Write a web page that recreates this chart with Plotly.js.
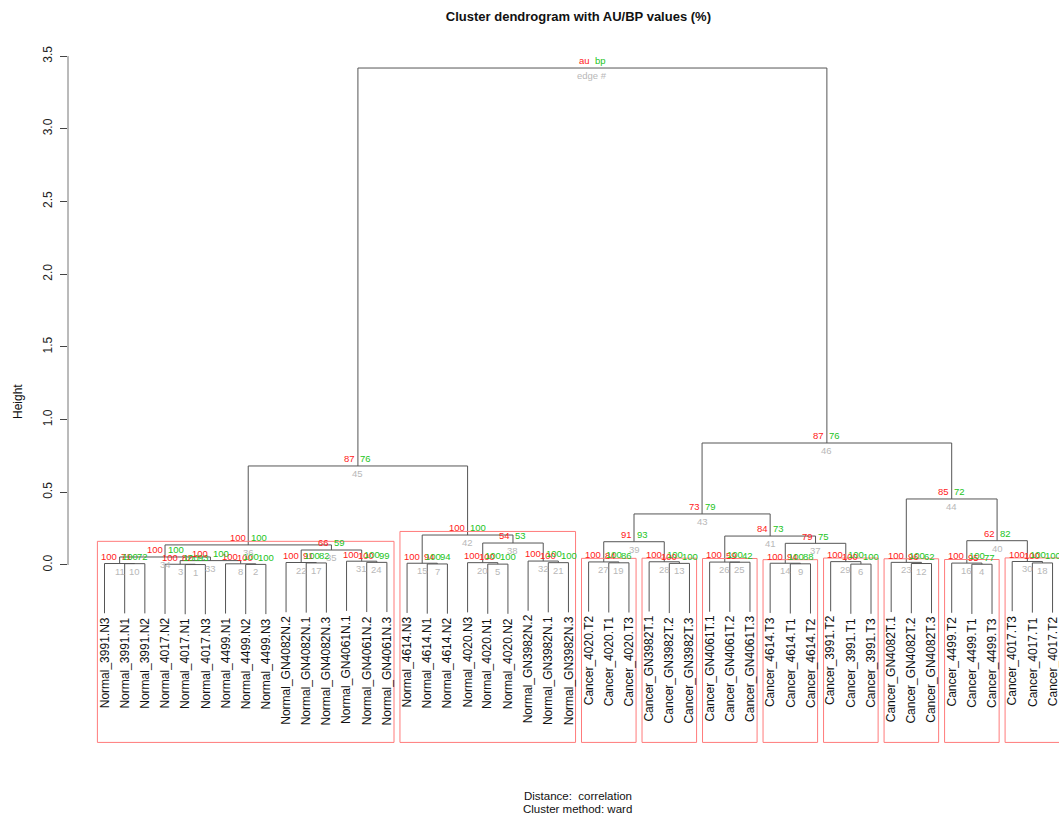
<!DOCTYPE html>
<html><head><meta charset="utf-8">
<script src="https://cdn.plot.ly/plotly-3.0.1.min.js"></script>
<style>html,body{margin:0;padding:0;background:#fff}#chart{width:1059px;height:821px}</style>
</head><body><div id="chart"></div>
<script>
// Leaf labels in display order (position 1..48)
const leafLabels = [
  "Normal_3991.N3","Normal_3991.N1","Normal_3991.N2",
  "Normal_4017.N2","Normal_4017.N1","Normal_4017.N3",
  "Normal_4499.N1","Normal_4499.N2","Normal_4499.N3",
  "Normal_GN4082N.2","Normal_GN4082N.1","Normal_GN4082N.3",
  "Normal_GN4061N.1","Normal_GN4061N.2","Normal_GN4061N.3",
  "Normal_4614.N3","Normal_4614.N1","Normal_4614.N2",
  "Normal_4020.N3","Normal_4020.N1","Normal_4020.N2",
  "Normal_GN3982N.2","Normal_GN3982N.1","Normal_GN3982N.3",
  "Cancer_4020.T2","Cancer_4020.T1","Cancer_4020.T3",
  "Cancer_GN3982T.1","Cancer_GN3982T.2","Cancer_GN3982T.3",
  "Cancer_GN4061T.1","Cancer_GN4061T.2","Cancer_GN4061T.3",
  "Cancer_4614.T3","Cancer_4614.T1","Cancer_4614.T2",
  "Cancer_3991.T2","Cancer_3991.T1","Cancer_3991.T3",
  "Cancer_GN4082T.1","Cancer_GN4082T.2","Cancer_GN4082T.3",
  "Cancer_4499.T2","Cancer_4499.T1","Cancer_4499.T3",
  "Cancer_4017.T3","Cancer_4017.T1","Cancer_4017.T2"
];

// Merge table (edge k = row k). Negative = leaf position, positive = edge number.
const mergeLeft  = [-5,-8,-4,-44,-20,-38,-17,-7,-35,-2,-1,-41,-29,-34,-16,-43,-11,-47,-26,-19,-23,-10,-40,-14,-32,-31,-25,-28,-37,-46,-13,-22, 3,11,22,34,14,20,27,16,26,15,39,23,36,43,45];
const mergeRight = [-6,-9, 1,-45,-21,-39,-18, 2,-36,-3,10,-42,-30,  9,  7,  4,-12,-48,-27,  5,-24, 17, 12,-15,-33, 25, 19, 13,  6, 18, 24, 21, 8,33,31,35,29,32,28,30,37,38,41,40,42,44,46];
const mergeHeight = [0.003,0.004,0.005,0.005,0.006,0.006,0.007,0.008,0.008,0.009,0.010,0.010,0.011,0.012,0.012,0.013,
  0.014,0.014,0.015,0.016,0.016,0.017,0.018,0.018,0.019,0.020,0.021,0.022,0.023,0.024,0.026,0.027,
  0.030,0.055,0.103,0.138,0.149,0.151,0.160,0.167,0.199,0.206,0.351,0.454,0.681,0.839,3.418];

const auValues = ["82","100","100","95","100","100","94","100","94","71","100","96","100","100","100","100",
  "91","100","84","100","100","100","100","100","59","100","100","100","100","100","100","100",
  "100","100","66","100","79","54","91","62","84","100","73","85","87","87","au"];
const bpValues = ["93","100","100","77","100","100","94","100","88","72","100","62","100","100","100","100",
  "82","100","86","100","100","100","100","99","42","100","100","100","100","100","100","100",
  "100","100","59","100","75","53","93","82","73","100","79","72","76","76","bp"];
const edgeLabels = ["1","2","3","4","5","6","7","8","9","10","11","12","13","14","15","16","17","18","19","20",
  "21","22","23","24","25","26","27","28","29","30","31","32","33","34","35","36","37","38","39","40",
  "41","42","43","44","45","46","edge #"];

// Clusters boxed by pvrect (au >= 95%)
const rectEdges = [36,42,27,28,26,14,29,23,16,30];

const yTickVals = [0,0.5,1,1.5,2,2.5,3,3.5];
const yTickText = ["0.0","0.5","1.0","1.5","2.0","2.5","3.0","3.5"];

const titleText = "Cluster dendrogram with AU/BP values (%)";
const yTitle = "Height";
const subLine1 = "Distance:\u00a0 correlation";
const subLine2 = "Cluster method: ward";

// ---------- layout geometry ----------
const X_RANGE = [-0.81, 48.32];
const Y_RANGE = [-1.245, 3.6795];
const maxH = Math.max(...mergeHeight);
const hang = 0.1 * maxH;
const floatUp = 0.01 * (Y_RANGE[1] - Y_RANGE[0]);
const rectMx = 0.3525;
const rectMy = (Y_RANGE[1] - Y_RANGE[0]) / 200;
const FONT = 'Liberation Sans, Arial, sans-serif';

const nodeX = {}, nodeH = {};
const leafEnd = {};
const lx = [], ly = [];
for (let k = 1; k <= mergeHeight.length; k++) {
  const L = mergeLeft[k-1], R = mergeRight[k-1], h = mergeHeight[k-1];
  const xl = L < 0 ? -L : nodeX[L];
  const xr = R < 0 ? -R : nodeX[R];
  const yl = L < 0 ? h - hang : nodeH[L];
  const yr = R < 0 ? h - hang : nodeH[R];
  if (L < 0) leafEnd[-L] = yl;
  if (R < 0) leafEnd[-R] = yr;
  nodeX[k] = (xl + xr) / 2; nodeH[k] = h;
  lx.push(xl, xl, xr, xr, null);
  ly.push(yl, h, h, yr, null);
}

function leavesOf(k) {
  const out = [];
  [mergeLeft[k-1], mergeRight[k-1]].forEach(c => {
    if (c < 0) out.push(-c); else out.push(...leavesOf(c));
  });
  return out;
}

const annotations = [];
leafLabels.forEach((lab, i) => {
  annotations.push({x: i+1, y: leafEnd[i+1], xref:'x', yref:'y', text: lab, textangle: -90,
    showarrow:false, xanchor:'center', yanchor:'top', yshift:-2,
    font:{family:FONT, size:12, color:'#111'}});
});
for (let k = 1; k <= mergeHeight.length; k++) {
  const x = nodeX[k], h = nodeH[k];
  annotations.push({x, y: h + floatUp, xref:'x', yref:'y', text: auValues[k-1], showarrow:false,
    xanchor:'right', yanchor:'middle', xshift:-1.5, borderpad:0,
    font:{family:FONT, size:9.5, color:'#ff1a1a'}});
  annotations.push({x, y: h + floatUp, xref:'x', yref:'y', text: bpValues[k-1], showarrow:false,
    xanchor:'left', yanchor:'middle', xshift:1.5, borderpad:0,
    font:{family:FONT, size:9.5, color:'#22c422'}});
  annotations.push({x, y: h, xref:'x', yref:'y', text: edgeLabels[k-1], showarrow:false,
    xanchor:'center', yanchor:'top', yshift:-1, borderpad:0,
    font:{family:FONT, size:9.5, color:'#b8b8b8'}});
}
annotations.push({x:-0.0505, y:0.4818, xref:'paper', yref:'paper', text:yTitle, textangle:-90, showarrow:false,
  xanchor:'center', yanchor:'middle', font:{family:FONT, size:12, color:'#111'}});
annotations.push({x:0.5146, y:-0.0698, xref:'paper', yref:'paper', text:subLine1, showarrow:false,
  xanchor:'center', yanchor:'middle', font:{family:FONT, size:11.5, color:'#111'}});
annotations.push({x:0.5146, y:-0.0880, xref:'paper', yref:'paper', text:subLine2, showarrow:false,
  xanchor:'center', yanchor:'middle', font:{family:FONT, size:11.5, color:'#111'}});

const shapes = [];
rectEdges.forEach(k => {
  const lv = leavesOf(k);
  shapes.push({type:'rect', xref:'x', yref:'y',
    x0: Math.min(...lv) - rectMx, x1: Math.max(...lv) + rectMx,
    y0: Y_RANGE[0] + rectMy, y1: nodeH[k] + rectMy,
    line:{color:'#ff7b7b', width:1}, fillcolor:'rgba(0,0,0,0)'});
});
shapes.push({type:'line', xref:'paper', yref:'y', x0:0, x1:0, y0:yTickVals[0], y1:yTickVals[yTickVals.length-1],
  line:{color:'#777', width:1}});

const trace = {x: lx, y: ly, type:'scatter', mode:'lines', line:{color:'#555', width:1},
  hoverinfo:'skip', showlegend:false, connectgaps:false};

const layout = {
  width:1059, height:821,
  margin:{l:68, r:0, t:30, b:75, pad:0},
  paper_bgcolor:'#fff', plot_bgcolor:'#fff',
  title:{text:'<b>'+titleText+'</b>', xref:'container', yref:'container', x:0.5462, y:0.9805,
    xanchor:'center', yanchor:'middle',
    font:{family:FONT, size:13, color:'#111'}},
  xaxis:{range:X_RANGE, visible:false, fixedrange:true},
  yaxis:{range:Y_RANGE, tickvals:yTickVals, ticktext:yTickText, tickangle:-90,
    ticks:'outside', ticklen:7, tickwidth:1, tickcolor:'#444', ticklabelstandoff:3,
    showgrid:false, zeroline:false, showline:false,
    tickfont:{family:FONT, size:12, color:'#222'}, fixedrange:true},
  showlegend:false,
  annotations, shapes
};
Plotly.newPlot('chart', [trace], layout, {displayModeBar:false, staticPlot:true});
</script>
</body></html>
